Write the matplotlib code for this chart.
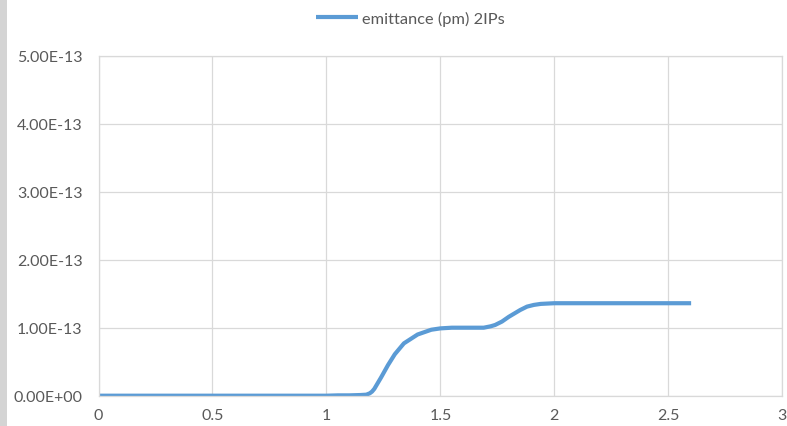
"""
Emittance vs position, Excel-style line chart
"""
import matplotlib
matplotlib.use("Agg")
import matplotlib.pyplot as plt
from matplotlib.patches import Rectangle
from matplotlib.ticker import FuncFormatter

# data (y in units of 1e-13)
x_vals = [0, 0.25, 0.5, 0.75, 1.0, 1.05, 1.1, 1.15, 1.175, 1.19, 1.20, 1.21,
          1.24, 1.27, 1.30, 1.34, 1.40, 1.46, 1.50, 1.55, 1.60, 1.65, 1.69,
          1.72, 1.74, 1.77, 1.80, 1.83, 1.85, 1.88, 1.91, 1.94, 1.97, 2.0,
          2.2, 2.4, 2.6]
emit_e13 = [0, 0, 0, 0, 0, 0.005, 0.005, 0.01, 0.015, 0.035, 0.06, 0.10,
            0.27, 0.45, 0.61, 0.77, 0.90, 0.97, 0.99, 1.0, 1.0, 1.0, 1.0,
            1.02, 1.04, 1.09, 1.16, 1.22, 1.26, 1.31, 1.335, 1.35, 1.355,
            1.36, 1.36, 1.36, 1.36]
series_label = "emittance (pm) 2IPs"
x_ticks = [0, 0.5, 1, 1.5, 2, 2.5, 3]
y_ticks = [0, 1e-13, 2e-13, 3e-13, 4e-13, 5e-13]

emit = [v * 1e-13 for v in emit_e13]

plt.rcParams['font.family'] = ['Lato', 'DejaVu Sans']
text_col = '#595959'
grid_col = '#D9D9D9'

fig = plt.figure(figsize=(7.87, 4.27), dpi=100)
# gray strip at the left edge
fig.patches.append(Rectangle((0, 0), 7 / 787, 1, transform=fig.transFigure,
                             facecolor='#D4D4D4', edgecolor='none'))

ax = fig.add_axes([98.5 / 787, 1 - 396.7 / 427, (782.3 - 98.5) / 787, 340 / 427])
ax.plot(x_vals, emit, color='#5B9BD5', linewidth=3, label=series_label,
        solid_capstyle='butt')

ax.set_xlim(0, 3)
ax.set_ylim(0, 5e-13)
ax.set_xticks(x_ticks)
ax.set_yticks(y_ticks)
ax.xaxis.set_major_formatter(FuncFormatter(lambda v, p: f"{v:g}"))
ax.yaxis.set_major_formatter(FuncFormatter(
    lambda v, p: "0.00E+00" if v == 0 else f"{v:.2E}"))
ax.tick_params(length=0, colors=text_col, labelsize=11.5)
ax.tick_params(axis='y', pad=11.5)
ax.tick_params(axis='x', pad=9)
ax.grid(True, color=grid_col, linewidth=0.9)
ax.set_axisbelow(True)
for s in ax.spines.values():
    s.set_color(grid_col)
    s.set_linewidth(0.9)

fig.legend(loc='center', bbox_to_anchor=(410 / 787, 1 - 19 / 427),
           frameon=False, fontsize=11.8, labelcolor=text_col,
           handlelength=2.6, handletextpad=0.2)

fig.savefig('out.png', dpi=100)
